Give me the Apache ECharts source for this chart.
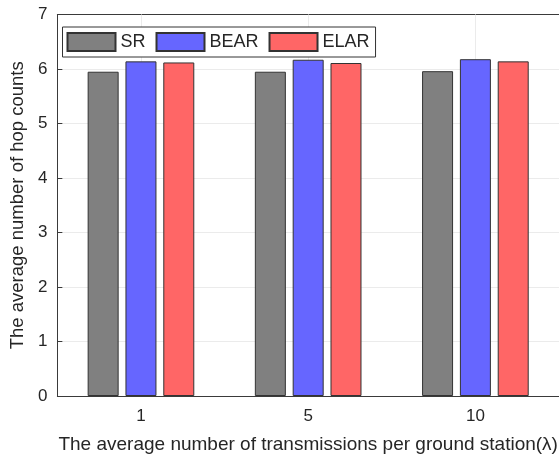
<!DOCTYPE html>
<html>
<head>
<meta charset="utf-8">
<script src="https://cdn.jsdelivr.net/npm/echarts@6/dist/echarts.min.js"></script>
<style>html,body{margin:0;padding:0;background:#fff;}#c{width:559px;height:459px;}</style>
</head>
<body>
<div id="c"></div>
<script>
const categories = ['1', '5', '10'];
const seriesNames = ['SR', 'BEAR', 'ELAR'];
const srValues = [5.95, 5.95, 5.96];
const bearValues = [6.14, 6.17, 6.18];
const elarValues = [6.12, 6.11, 6.14];
const yTicks = [0, 1, 2, 3, 4, 5, 6, 7];
const colors = ['#808080', '#6666ff', '#ff6666'];

const chart = echarts.init(document.getElementById('c'));
const font = 'Liberation Sans, Arial, Helvetica, sans-serif';
const axisColor = '#3a3a3a';
const textColor = '#262626';

function barSeries(name, data, color) {
  return {
    name: name, type: 'bar', data: data, z: 3,
    barWidth: 31, barGap: '22%',
    itemStyle: { color: color, borderColor: '#333', borderWidth: 1 }
  };
}

chart.setOption({
  animation: false,
  backgroundColor: '#fff',
  grid: { left: 47, right: -8, top: 14.5, bottom: 56, containLabel: false },
  legend: {
    data: seriesNames, z: 20,
    left: 62.5, top: 27,
    icon: 'rect', itemWidth: 48, itemHeight: 18, itemGap: 10,
    padding: [5, 6, 5, 4],
    backgroundColor: '#fff', borderColor: '#333', borderWidth: 1,
    textStyle: { fontFamily: font, fontSize: 18, color: textColor }
  },
  xAxis: [{
    type: 'category', data: categories, position: 'bottom',
    name: 'The average number of transmissions per ground station(\u03bb)',
    nameLocation: 'middle', nameGap: 39,
    nameTextStyle: { fontFamily: font, fontSize: 19, color: textColor },
    axisLine: { lineStyle: { color: axisColor, width: 1 } },
    axisTick: { inside: true, alignWithLabel: true, length: 5, lineStyle: { color: axisColor } },
    axisLabel: { fontFamily: font, fontSize: 17, color: textColor, margin: 12 },
    splitLine: { show: false }
  }, {
    type: 'category', data: categories, position: 'top',
    axisLine: { lineStyle: { color: axisColor, width: 1 } },
    axisTick: { inside: true, alignWithLabel: true, length: 5, lineStyle: { color: axisColor } },
    axisLabel: { show: false },
    splitLine: { show: false }
  }],
  yAxis: {
    type: 'value', min: 0, max: 7, interval: 1,
    name: 'The average number of hop counts',
    nameLocation: 'middle', nameGap: 22, nameRotate: 90,
    nameTextStyle: { fontFamily: font, fontSize: 18.5, color: textColor },
    axisLine: { show: true, lineStyle: { color: axisColor, width: 1 } },
    axisTick: { show: true, inside: true, length: 5, lineStyle: { color: axisColor } },
    axisLabel: { fontFamily: font, fontSize: 17, color: textColor, margin: 10,
      formatter: v => String(yTicks[v] !== undefined ? yTicks[v] : v) },
    splitLine: { show: true, lineStyle: { color: '#ebebeb', width: 1 } }
  },
  series: [
    {
      name: 'grid', type: 'line', data: [], z: 1, silent: true,
      markLine: {
        z: 1, silent: true, symbol: ['none', 'none'], label: { show: false },
        lineStyle: { color: '#ebebeb', type: 'solid', width: 1 },
        data: categories.map(c => ({ xAxis: c }))
      }
    },
    barSeries(seriesNames[0], srValues, colors[0]),
    barSeries(seriesNames[1], bearValues, colors[1]),
    barSeries(seriesNames[2], elarValues, colors[2])
  ]
});
</script>
</body>
</html>
